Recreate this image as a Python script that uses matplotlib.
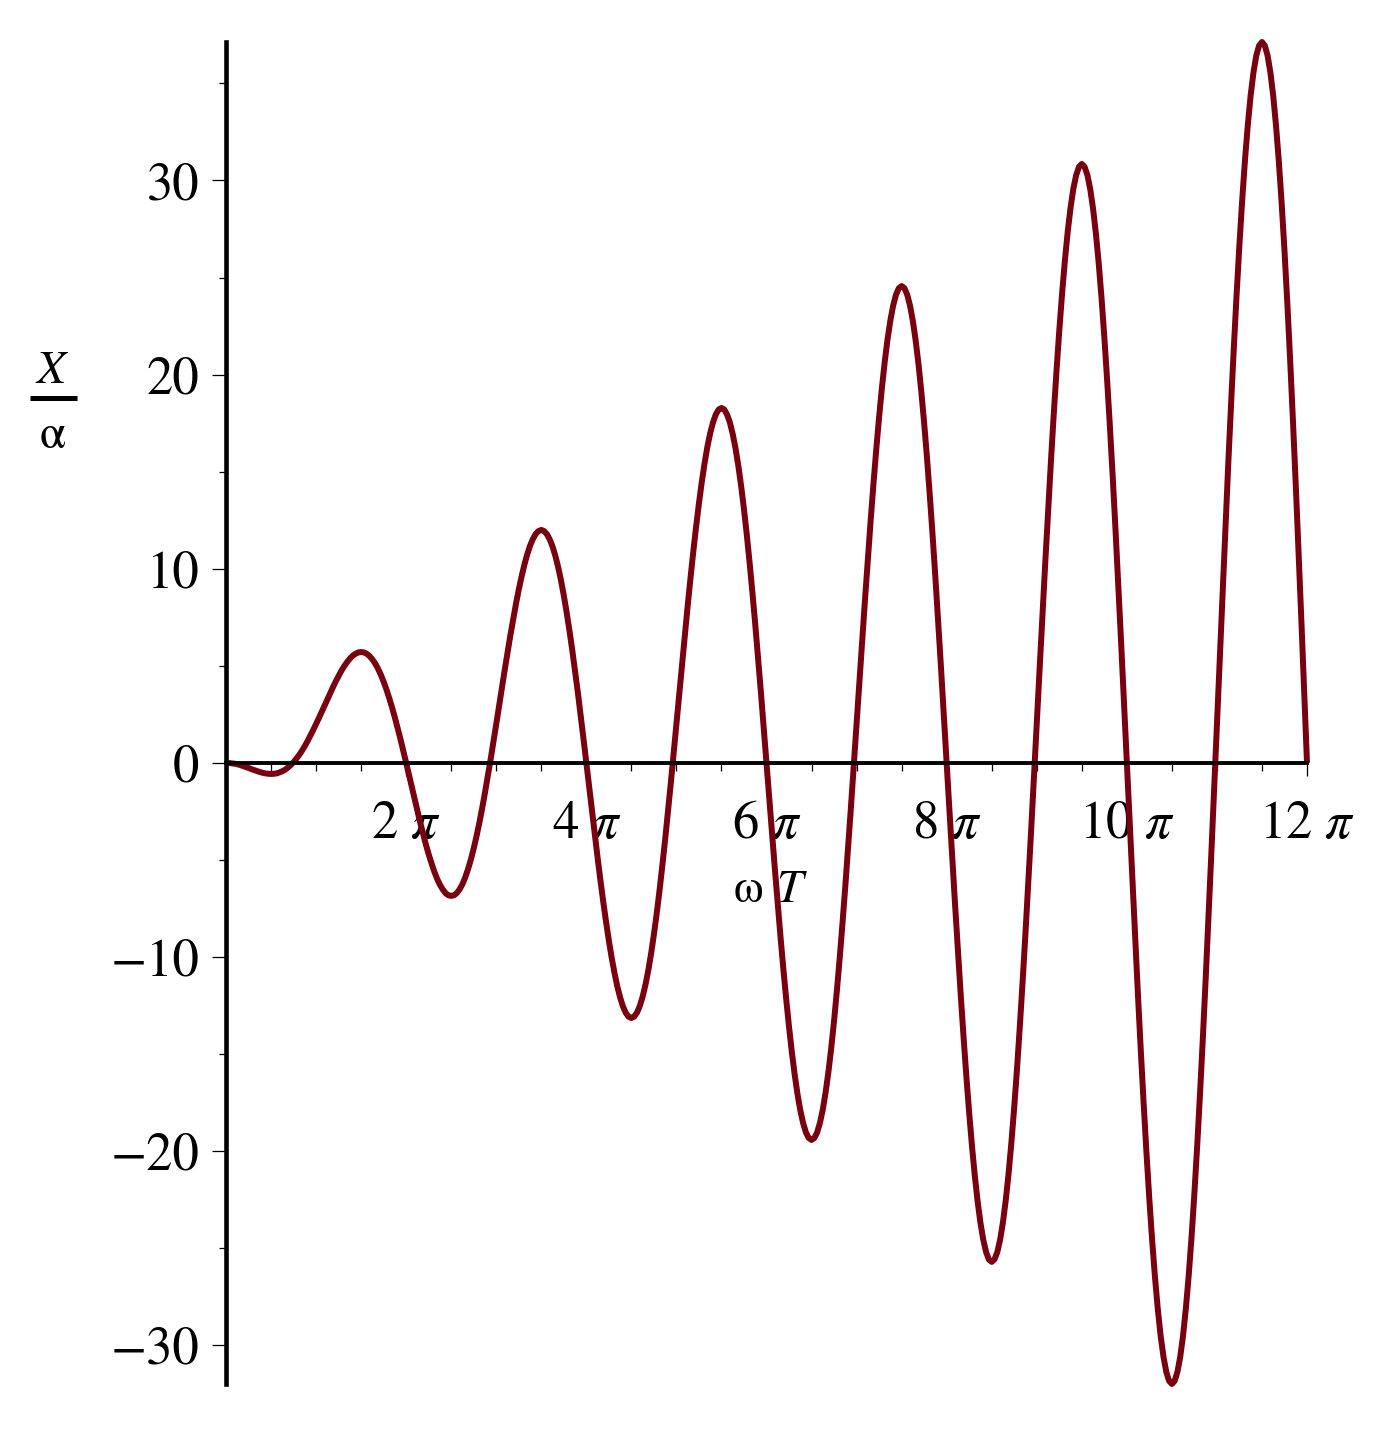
import numpy as np
import matplotlib
matplotlib.use("Agg")
import matplotlib.pyplot as plt
from matplotlib.lines import Line2D

plt.rcParams['mathtext.fontset'] = 'stix'
plt.rcParams['font.family'] = ['STIXGeneral', 'Liberation Serif', 'DejaVu Serif']

sample_step_in_pi = 1.0 / 32.0
x_over_alpha = [
    0.00, -0.005, -0.02, -0.04, -0.07, -0.11, -0.16, -0.21, -0.26, -0.32, -0.37, -0.42, -0.47, -0.51, -0.54, -0.56,
    -0.57, -0.56, -0.54, -0.49, -0.43, -0.35, -0.24, -0.11, 0.04, 0.22, 0.41, 0.63, 0.87, 1.13, 1.41, 1.70,
    2.00, 2.31, 2.63, 2.95, 3.28, 3.59, 3.90, 4.20, 4.48, 4.75, 4.98, 5.19, 5.37, 5.52, 5.62, 5.69,
    5.71, 5.69, 5.62, 5.50, 5.33, 5.12, 4.85, 4.54, 4.18, 3.78, 3.33, 2.85, 2.33, 1.78, 1.21, 0.61,
    0.00, -0.62, -1.24, -1.87, -2.48, -3.08, -3.65, -4.20, -4.71, -5.17, -5.60, -5.97, -6.28, -6.52, -6.71, -6.82,
    -6.85, -6.82, -6.70, -6.51, -6.24, -5.89, -5.46, -4.97, -4.40, -3.77, -3.08, -2.33, -1.53, -0.69, 0.18, 1.08,
    2.00, 2.93, 3.86, 4.78, 5.68, 6.56, 7.39, 8.19, 8.93, 9.60, 10.21, 10.74, 11.18, 11.53, 11.79, 11.94,
    12.00, 11.94, 11.78, 11.51, 11.14, 10.66, 10.08, 9.40, 8.62, 7.76, 6.82, 5.81, 4.73, 3.61, 2.43, 1.23,
    0.00, -1.24, -2.47, -3.69, -4.88, -6.04, -7.14, -8.18, -9.15, -10.03, -10.82, -11.51, -12.08, -12.54, -12.87, -13.07,
    -13.14, -13.07, -12.86, -12.52, -12.04, -11.43, -10.69, -9.83, -8.84, -7.76, -6.57, -5.29, -3.94, -2.52, -1.05, 0.47,
    2.00, 3.54, 5.08, 6.60, 8.09, 9.52, 10.89, 12.17, 13.37, 14.46, 15.43, 16.28, 16.98, 17.54, 17.95, 18.20,
    18.28, 18.20, 17.94, 17.53, 16.94, 16.20, 15.30, 14.25, 13.07, 11.75, 10.31, 8.77, 7.14, 5.43, 3.66, 1.84,
    0.00, -1.85, -3.70, -5.51, -7.29, -9.00, -10.63, -12.17, -13.59, -14.89, -16.04, -17.05, -17.89, -18.55, -19.03, -19.32,
    -19.42, -19.32, -19.03, -18.53, -17.85, -16.97, -15.91, -14.68, -13.29, -11.74, -10.06, -8.25, -6.34, -4.34, -2.27, -0.15,
    2.00, 4.16, 6.31, 8.43, 10.49, 12.48, 14.38, 16.16, 17.81, 19.32, 20.66, 21.82, 22.79, 23.56, 24.11, 24.45,
    24.56, 24.45, 24.11, 23.54, 22.75, 21.74, 20.53, 19.11, 17.51, 15.74, 13.80, 11.73, 9.54, 7.25, 4.88, 2.46,
    0.00, -2.47, -4.92, -7.34, -9.69, -11.96, -14.12, -16.15, -18.03, -19.75, -21.27, -22.59, -23.69, -24.56, -25.19, -25.58,
    -25.70, -25.57, -25.19, -24.55, -23.65, -22.51, -21.14, -19.54, -17.73, -15.73, -13.55, -11.22, -8.75, -6.17, -3.50, -0.77,
    2.00, 4.78, 7.54, 10.25, 12.89, 15.44, 17.87, 20.15, 22.26, 24.17, 25.88, 27.36, 28.59, 29.57, 30.27, 30.70,
    30.85, 30.70, 30.27, 29.55, 28.55, 27.28, 25.75, 23.97, 21.95, 19.72, 17.30, 14.70, 11.95, 9.08, 6.11, 3.07,
    0.00, -3.08, -6.15, -9.16, -12.10, -14.92, -17.61, -20.14, -22.48, -24.60, -26.49, -28.13, -29.50, -30.57, -31.36, -31.83,
    -31.99, -31.83, -31.35, -30.56, -29.46, -28.05, -26.36, -24.40, -22.17, -19.71, -17.04, -14.18, -11.15, -7.99, -4.72, -1.38,
    2.00, 5.39, 8.76, 12.07, 15.30, 18.40, 21.36, 24.13, 26.70, 29.03, 31.11, 32.90, 34.40, 35.58, 36.44, 36.95,
    37.13, 36.95, 36.43, 35.56, 34.36, 32.82, 30.97, 28.82, 26.40, 23.71, 20.79, 17.66, 14.35, 10.90, 7.34, 3.69,
    0.00,
]
assert len(x_over_alpha) == 385
omega_T = np.arange(len(x_over_alpha)) * sample_step_in_pi * np.pi

xtick_multiples_of_pi = [2, 4, 6, 8, 10, 12]
xtick_labels = [r'$2\ \pi$', r'$4\ \pi$', r'$6\ \pi$', r'$8\ \pi$', r'$10\ \pi$', r'$12\ \pi$']
xminor_multiples_of_pi = [0.5 * i for i in range(1, 24)]
ytick_values = [-30, -20, -10, 0, 10, 20, 30]
ytick_labels = ['\u221230', '\u221220', '\u221210', '0', '10', '20', '30']
yminor_values = [-25, -15, -5, 5, 15, 25, 35]

W, H = 1374, 1436
fig = plt.figure(figsize=(W / 100, H / 100), dpi=100)
ax = fig.add_axes([226 / W, (H - 1384) / H, (1307 - 226) / W, (1384 - 42) / H])

ax.plot(omega_T, x_over_alpha, color='#78000F', lw=4.3, solid_joinstyle='round',
        solid_capstyle='butt', clip_on=False, zorder=2)

ax.set_xlim(0, 12 * np.pi)
ax.set_ylim(min(x_over_alpha), max(x_over_alpha))

for s in ['top', 'right']:
    ax.spines[s].set_visible(False)
ax.spines['left'].set_position(('data', 0))
ax.spines['bottom'].set_position(('data', 0))
ax.spines['left'].set_linewidth(3.3)
ax.spines['bottom'].set_linewidth(2.8)
ax.spines['left'].set_zorder(3)
ax.spines['bottom'].set_zorder(3)

ax.set_xticks([m * np.pi for m in xtick_multiples_of_pi])
ax.set_xticklabels(xtick_labels)
ax.set_xticks([m * np.pi for m in xminor_multiples_of_pi if m not in xtick_multiples_of_pi], minor=True)
ax.set_yticks(ytick_values)
ax.set_yticklabels(ytick_labels)
ax.set_yticks(yminor_values, minor=True)

ax.tick_params(axis='x', which='major', direction='out', length=9.4, width=0.9, pad=18, labelsize=38)
ax.tick_params(axis='x', which='minor', direction='out', length=5.8, width=0.9)
ax.tick_params(axis='y', which='major', direction='out', length=10.4, width=0.9, pad=9, labelsize=38)
ax.tick_params(axis='y', which='minor', direction='out', length=5.4, width=0.9)

def fx(px):
    return px / W

def fy(py):
    return 1 - py / H

# x-axis label: omega T
fig.text(fx(748), fy(902), '\u03c9', fontsize=34, ha='center', va='baseline')
fig.text(fx(789), fy(902), 'T', fontsize=34, style='italic', ha='center', va='baseline')

# y-axis label: X over alpha
fig.text(fx(51), fy(383), 'X', fontsize=34, style='italic', ha='center', va='baseline')
fig.add_artist(Line2D([fx(30), fx(77)], [fy(397.5), fy(397.5)], color='black', lw=3.6,
                      solid_capstyle='butt', transform=fig.transFigure))
fig.text(fx(52), fy(448), '\u03b1', fontsize=34, ha='center', va='baseline')

fig.savefig('out.png', dpi=100)
